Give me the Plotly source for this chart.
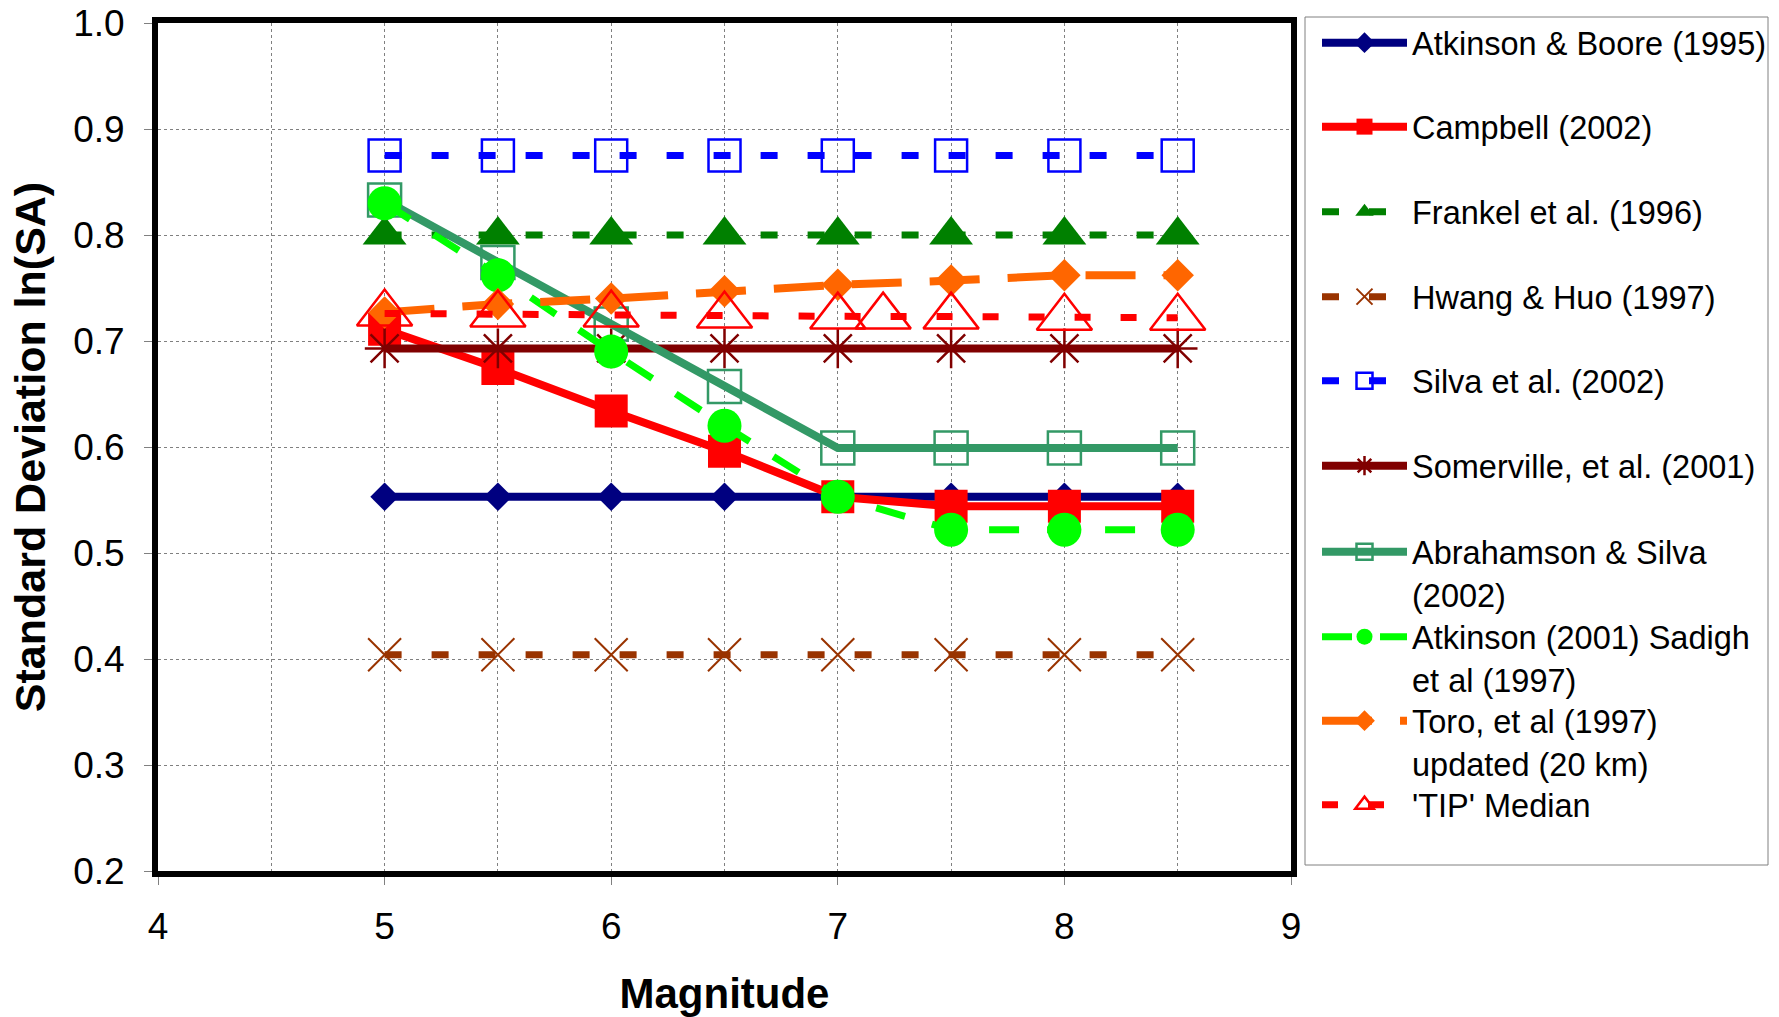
import plotly.graph_objects as go

# ---------------- data ----------------
mag = [5, 5.5, 6, 6.5, 7, 7.5, 8, 8.5]
mag_tip = [5, 5.5, 6, 6.5, 7, 7.2, 7.5, 8, 8.5]

atkinson_boore = [0.553, 0.553, 0.553, 0.553, 0.553, 0.553, 0.553, 0.553]
campbell = [0.711, 0.674, 0.634, 0.596, 0.553, 0.544, 0.544, 0.544]
frankel = [0.800, 0.800, 0.800, 0.800, 0.800, 0.800, 0.800, 0.800]
hwang_huo = [0.404, 0.404, 0.404, 0.404, 0.404, 0.404, 0.404, 0.404]
silva = [0.875, 0.875, 0.875, 0.875, 0.875, 0.875, 0.875, 0.875]
somerville = [0.693, 0.693, 0.693, 0.693, 0.693, 0.693, 0.693, 0.693]
abrahamson_silva = [0.833, 0.774, 0.716, 0.657, 0.599, 0.599, 0.599, 0.599]
atkinson_sadigh = [0.830, 0.762, 0.690, 0.620, 0.553, 0.522, 0.522, 0.522]
toro = [0.727, 0.735, 0.740, 0.747, 0.753, 0.757, 0.762, 0.762]
tip_median = [0.726, 0.725, 0.725, 0.724, 0.723, 0.723, 0.723, 0.722, 0.722]

names = [
    "Atkinson & Boore (1995)",
    "Campbell (2002)",
    "Frankel et al. (1996)",
    "Hwang & Huo (1997)",
    "Silva et al. (2002)",
    "Somerville, et al. (2001)",
    "Abrahamson & Silva<br>(2002)",
    "Atkinson (2001) Sadigh<br>et al (1997)",
    "Toro, et al (1997)<br>updated (20 km)",
    "'TIP' Median",
]

x_ticks = [4, 5, 6, 7, 8, 9]
y_ticks = [0.2, 0.3, 0.4, 0.5, 0.6, 0.7, 0.8, 0.9, 1.0]

FONT = "Liberation Sans, Arial, sans-serif"

# ---------------- layout geometry (px) ----------------
W, H = 1779, 1017
L, R, T, B = 158, 1291, 23, 871   # plot area in px
pw, ph = R - L, B - T


def px_x(px):
    return (px - L) / pw


def px_y(py):
    return (B - py) / ph


fig = go.Figure()

series = [
    (mag, atkinson_boore, dict(color="#000080", width=8, dash="solid"),
     dict(symbol="diamond", size=22, color="#000080")),
    (mag, campbell, dict(color="#FF0000", width=8, dash="solid"),
     dict(symbol="square", size=33, color="#FF0000")),
    (mag, frankel, dict(color="#008000", width=7, dash="17px,30px"),
     dict(symbol="triangle-up", size=38, color="#008000")),
    (mag, hwang_huo, dict(color="#993300", width=7, dash="17px,30px"),
     dict(symbol="x-thin-open", size=33, color="#993300", line=dict(width=2, color="#993300"))),
    (mag, silva, dict(color="#0000FF", width=7, dash="17px,30px"),
     dict(symbol="square-open", size=32, color="#0000FF", line=dict(width=2.5, color="#0000FF"))),
    (mag, somerville, dict(color="#800000", width=8, dash="solid"),
     dict(symbol="asterisk-open", size=33, color="#800000", line=dict(width=2.5, color="#800000"))),
    (mag, abrahamson_silva, dict(color="#339966", width=8, dash="solid"),
     dict(symbol="square-open", size=33, color="#339966", line=dict(width=2.5, color="#339966"))),
    (mag, atkinson_sadigh, dict(color="#00FF00", width=7, dash="30px,28px"),
     dict(symbol="circle", size=34, color="#00FF00")),
    (mag, toro, dict(color="#FF6600", width=8, dash="50px,28px"),
     dict(symbol="diamond", size=25, color="#FF6600")),
    (mag_tip, tip_median, dict(color="#FF0000", width=7, dash="16px,30px"),
     dict(symbol="triangle-up-open", size=48, color="#FF0000", line=dict(width=2.5, color="#FF0000"))),
]

legend_rows = [44, 128, 213, 298, 382, 467, 553, 638, 722, 806]

for i, ((xs, ys, ln, mk), nm) in enumerate(zip(series, names)):
    lg = "legend" if i == 0 else f"legend{i+1}"
    fig.add_trace(go.Scatter(
        x=xs, y=ys, mode="lines+markers", name=nm,
        line=ln, marker=mk, legend=lg,
    ))

legend_layout = {}
for i, row in enumerate(legend_rows):
    key = "legend" if i == 0 else f"legend{i+1}"
    legend_layout[key] = dict(
        x=px_x(1317), xanchor="left",
        y=px_y(row - 29), yanchor="top",
        bgcolor="rgba(0,0,0,0)", borderwidth=0,
        font=dict(family=FONT, size=32.5, color="black"),
        valign="top", itemwidth=85,
    )

fig.update_layout(
    width=W, height=H,
    margin=dict(l=L, r=W - R, t=T, b=H - B, autoexpand=False),
    paper_bgcolor="white", plot_bgcolor="white",
    font=dict(family=FONT, color="black"),
    showlegend=True,
    **legend_layout,
    shapes=[dict(
        type="rect", xref="paper", yref="paper",
        x0=px_x(1305), x1=px_x(1768), y0=px_y(865), y1=px_y(17),
        line=dict(color="#808080", width=1), fillcolor="rgba(0,0,0,0)",
        layer="below",
    )],
)

fig.update_xaxes(
    range=[4, 9], tickvals=x_ticks, ticktext=[str(v) for v in x_ticks],
    showline=True, mirror=True, linecolor="black", linewidth=6,
    ticks="outside", ticklen=8, tickcolor="#808080", tickwidth=1,
    showgrid=True, gridcolor="#808080", griddash="dot", gridwidth=1,
    minor=dict(dtick=0.5, tick0=4, showgrid=True, gridcolor="#808080",
               griddash="dot", gridwidth=1, ticks=""),
    zeroline=False,
    tickfont=dict(family=FONT, size=37, color="black"),
    ticklabelstandoff=10, ticklabeloverflow="allow",
    title=dict(text="<b>Magnitude</b>", font=dict(family=FONT, size=42, color="black"),
               standoff=42),
)
fig.update_yaxes(
    range=[0.2, 1.0], tickvals=y_ticks, ticktext=[f"{v:.1f}" for v in y_ticks],
    showline=True, mirror=True, linecolor="black", linewidth=6,
    ticks="outside", ticklen=8, tickcolor="#808080", tickwidth=1,
    showgrid=True, gridcolor="#808080", griddash="dot", gridwidth=1,
    zeroline=False,
    tickfont=dict(family=FONT, size=37, color="black"),
    ticklabelstandoff=12, ticklabeloverflow="allow",
    title=dict(text="<b>Standard Deviation ln(SA)</b>",
               font=dict(family=FONT, size=43, color="black"), standoff=16),
)

# remove the default page margin so the figure fills the window exactly
fig.write_html("out.html",
               config={"displayModeBar": False},
               post_script="document.body.style.margin='0';document.body.style.overflow='hidden';")
